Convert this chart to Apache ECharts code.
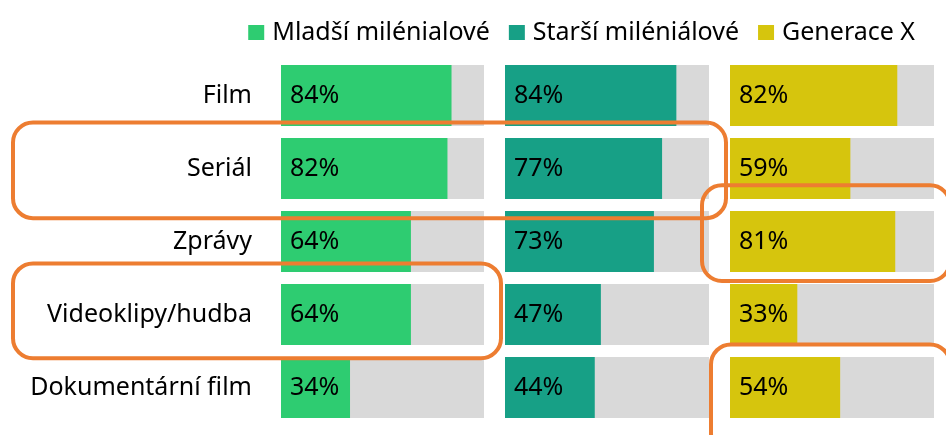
<!DOCTYPE html>
<html>
<head>
<meta charset="utf-8">
<script src="https://cdn.jsdelivr.net/npm/echarts@6/dist/echarts.min.js"></script>
<style>
	html, body { margin: 0; padding: 0; background: #fff; }
	#chart { width: 946px; height: 435px; }
</style>
</head>
<body>
<div id="chart"></div>
<script>
const categories = ['Film', 'Seriál', 'Zprávy', 'Videoklipy/hudba', 'Dokumentární film']
const seriesNames = ['Mladší milénialové', 'Starší miléniálové', 'Generace X']
const mladsi = [84, 82, 64, 64, 34]
const starsi = [84, 77, 73, 47, 44]
const genX = [82, 59, 81, 33, 54]

const colors = ['#2ECC71', '#17A086', '#D6C50D']
const font = 'Noto Sans'
const values = [mladsi, starsi, genX]
// panel positions
const panels = [
	{ left: 281, width: 203 },
	{ left: 505, width: 204 },
	{ left: 730, width: 204 }
]
const gridTop = 59
const gridHeight = 365

let chart = echarts.init(document.getElementById('chart'))

let option = {
	backgroundColor: '#fff',
	animation: false,
	legend: {
		top: 15,
		right: 26,
		itemWidth: 16,
		itemHeight: 15,
		itemGap: 19,
		icon: 'rect',
		textStyle: {
			fontFamily: font,
			fontSize: 25,
			color: '#000',
			padding: [0, 0, 0, 3]
		},
		data: seriesNames
	},
	grid: panels.map((p) => ({
		left: p.left,
		width: p.width,
		top: gridTop,
		height: gridHeight
	})),
	xAxis: panels.map((p, i) => ({
		type: 'value',
		gridIndex: i,
		min: 0,
		max: 100,
		show: false
	})),
	yAxis: panels.map((p, i) => ({
		type: 'category',
		gridIndex: i,
		inverse: true,
		data: categories,
		axisLine: { show: false },
		axisTick: { show: false },
		axisLabel: {
			show: i === 0,
			margin: 29,
			fontFamily: font,
			fontSize: 25,
			color: '#000'
		}
	})),
	series: values.map((v, i) => ({
		name: seriesNames[i],
		type: 'bar',
		xAxisIndex: i,
		yAxisIndex: i,
		barCategoryGap: '16.5%',
		showBackground: true,
		backgroundStyle: { color: '#D9D9D9' },
		itemStyle: { color: colors[i] },
		label: {
			show: true,
			position: 'insideLeft',
			distance: 9,
			formatter: '{c}%',
			fontFamily: font,
			fontSize: 25,
			color: '#000'
		},
		data: v
	}))
}
chart.setOption(option)

// orange highlight boxes, placed from the axes
const pitch = gridHeight / categories.length
function rowY(name) {
	return chart.convertToPixel({ yAxisIndex: 0 }, name)
}
function gx(i, v) {
	return chart.convertToPixel({ xAxisIndex: i }, v)
}
const boxes = [
	{ row: 'Seriál', x1: 13, x2: gx(1, 100) + 17, up: 0.63, down: 0.68 },
	{ row: 'Videoklipy/hudba', x1: 13, x2: gx(0, 100) + 17, up: 0.7, down: 0.6 },
	{ row: 'Zprávy', x1: gx(2, 0) - 28, x2: 950, up: 0.77, down: 0.54 },
	{ row: 'Dokumentární film', x1: gx(2, 0) - 19, x2: 950, up: 0.59, down: 0.9 }
]
chart.setOption({
	graphic: boxes.map((b) => {
		let c = rowY(b.row)
		let y1 = c - b.up * pitch
		let y2 = c + b.down * pitch
		return {
			type: 'rect',
			shape: { x: b.x1, y: y1, width: b.x2 - b.x1, height: y2 - y1, r: 20 },
			style: { fill: 'none', stroke: '#ED7D31', lineWidth: 4 },
			z: 100
		}
	})
})
</script>
</body>
</html>
